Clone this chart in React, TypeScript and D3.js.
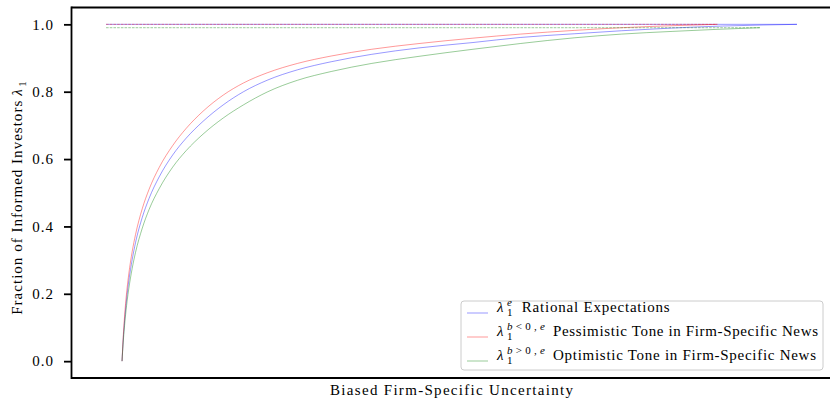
import React, { useEffect, useRef } from 'react';
import * as d3 from 'd3';

// values (x in arbitrary uncertainty units)
const blueX = [0, 0.15, 0.3, 0.45, 0.75, 1, 1.5, 2, 3, 4, 5.5, 7.5, 9.5, 12, 15, 18, 21.5, 26, 31, 37, 44, 52, 59, 67, 74, 81.5, 89, 95, 100];
const blueY = [0, 0.056, 0.101, 0.138, 0.198, 0.238, 0.301, 0.352, 0.427, 0.483, 0.547, 0.612, 0.662, 0.712, 0.761, 0.800, 0.834, 0.865, 0.889, 0.911, 0.930, 0.946, 0.961, 0.972, 0.981, 0.989, 0.995, 0.998, 1.0];

const redX = [0, 0.15, 0.3, 0.45, 0.75, 1, 1.5, 2, 3, 4, 5.5, 7.5, 9.5, 12, 15, 18, 21.5, 26, 31, 37, 44, 52, 59, 67, 74, 81.5, 88.2];
const redY = [0, 0.063, 0.112, 0.153, 0.217, 0.259, 0.325, 0.376, 0.453, 0.510, 0.575, 0.640, 0.691, 0.742, 0.790, 0.826, 0.856, 0.884, 0.906, 0.926, 0.943, 0.959, 0.971, 0.982, 0.990, 0.996, 1.0];

const greenX = [0, 0.15, 0.3, 0.45, 0.75, 1, 1.5, 2, 3, 4, 5.5, 7.5, 9.5, 12, 15, 18, 21.5, 26, 31, 37, 44, 52, 59, 67, 74, 81.5, 88, 94.5];
const greenY = [0, 0.049, 0.088, 0.122, 0.178, 0.215, 0.275, 0.323, 0.395, 0.450, 0.512, 0.576, 0.625, 0.674, 0.722, 0.761, 0.799, 0.834, 0.860, 0.884, 0.905, 0.926, 0.943, 0.960, 0.971, 0.979, 0.985, 0.99];

const capStart = -2.37;
const yTicks = [0.0, 0.2, 0.4, 0.6, 0.8, 1.0];

const legendSups = ['e', 'b<0,e', 'b>0,e'];
const legendLabels = [
  'Rational Expectations',
  'Pessimistic Tone in Firm-Specific News',
  'Optimistic Tone in Firm-Specific News',
];
const xLabel = 'Biased Firm-Specific Uncertainty';
const yLabel = 'Fraction of Informed Investors';

const FONT = "'Liberation Serif', 'DejaVu Serif', serif";

const Chart = () => {
  const svgRef = useRef(null);

  useEffect(() => {
    const left = 71.5, right = 831.5, top = 7.5, bottom = 378;

    const svg = d3.select(svgRef.current);
    svg.selectAll('*').remove();

    const xMax = d3.max([blueX, redX, greenX], a => a[a.length - 1]);
    const pad = (xMax - capStart) * 0.05;
    const x = d3.scaleLinear().domain([capStart - pad, xMax + pad]).range([left, right]);
    const y = d3.scaleLinear().domain([-0.05, 1.05]).range([bottom, top]);

    const series = [
      { xs: blueX, ys: blueY, color: '#0000ff', dash: null },
      { xs: redX, ys: redY, color: '#ff0000', dash: '2.6,1.1' },
      { xs: greenX, ys: greenY, color: '#008000', dash: '2.6,1.1' },
    ];

    const line = d3.line<[number, number]>()
      .x(d => x(d[0]))
      .y(d => y(d[1]))
      .curve(d3.curveMonotoneX);

    const plot = svg.append('g');
    series.forEach(s => {
      const pts = s.xs.map((v, i) => [v, s.ys[i]] as [number, number]);
      plot.append('path')
        .attr('d', line(pts))
        .attr('fill', 'none')
        .attr('stroke', s.color)
        .attr('stroke-opacity', 0.5)
        .attr('stroke-width', 0.8);

      // cap at the series' maximum
      const cap = s.ys[s.ys.length - 1];
      plot.append('line')
        .attr('x1', x(capStart))
        .attr('x2', x(s.xs[s.xs.length - 1]))
        .attr('y1', y(cap))
        .attr('y2', y(cap))
        .attr('stroke', s.color)
        .attr('stroke-opacity', 0.5)
        .attr('stroke-width', 0.8)
        .attr('stroke-dasharray', s.dash);
    });

    // y axis
    const yAxis = svg.append('g')
      .attr('transform', `translate(${left},0)`)
      .call(d3.axisLeft(y).tickValues(yTicks).tickSize(7.5).tickPadding(10).tickFormat(d3.format('.1f')));
    yAxis.select('.domain').remove();
    yAxis.selectAll('line').attr('stroke', '#000').attr('stroke-width', 1.8);
    yAxis.selectAll('text')
      .style('font-family', FONT)
      .style('font-size', '15px')
      .attr('letter-spacing', 1)
      .attr('fill', '#000');

    // spines
    const spine = svg.append('g').attr('stroke', '#000').attr('stroke-width', 1.8);
    spine.append('line').attr('x1', left).attr('x2', left).attr('y1', top - 0.9).attr('y2', bottom + 0.9);
    spine.append('line').attr('x1', left).attr('x2', right).attr('y1', top).attr('y2', top);
    spine.append('line').attr('x1', left).attr('x2', right).attr('y1', bottom).attr('y2', bottom);

    // axis labels
    svg.append('text')
      .attr('x', (left + right) / 2)
      .attr('y', 395)
      .attr('text-anchor', 'middle')
      .style('font-family', FONT)
      .style('font-size', '15px')
      .attr('textLength', 243)
      .attr('lengthAdjust', 'spacing')
      .text(xLabel);

    const yl = svg.append('g')
      .attr('transform', `translate(21.5,${(top + bottom) / 2 + 1})rotate(-90)`)
      .style('font-family', FONT);
    yl.append('text')
      .attr('x', -121)
      .attr('y', 0)
      .style('font-size', '15px')
      .attr('textLength', 214)
      .attr('lengthAdjust', 'spacing')
      .text(yLabel);
    yl.append('text')
      .attr('x', 98)
      .attr('y', 0)
      .style('font-size', '15px')
      .style('font-style', 'italic')
      .text('λ');
    yl.append('text')
      .attr('x', 107)
      .attr('y', 4)
      .style('font-size', '11px')
      .text('1');

    // legend
    const lg = svg.append('g').style('font-family', FONT);
    lg.append('rect')
      .attr('x', 461)
      .attr('y', 301)
      .attr('width', 362)
      .attr('height', 69)
      .attr('rx', 3)
      .attr('fill', '#fff')
      .attr('fill-opacity', 0.8)
      .attr('stroke', '#cccccc')
      .attr('stroke-width', 1);

    const rowBase = [312, 336, 360];
    const labelX = [521.7, 553, 553];
    const labelLen = [148, 265, 263];
    const supLen = [6, 38, 38];
    series.forEach((s, i) => {
      const by = rowBase[i];
      lg.append('line')
        .attr('x1', 467)
        .attr('x2', 488)
        .attr('y1', by + 1)
        .attr('y2', by + 1)
        .attr('stroke', s.color)
        .attr('stroke-opacity', 0.5)
        .attr('stroke-width', 0.8);
      lg.append('text')
        .attr('x', 497)
        .attr('y', by)
        .style('font-size', '15px')
        .style('font-style', 'italic')
        .text('λ');
      const sup = lg.append('text')
        .attr('x', 507)
        .attr('y', by - 6.5)
        .style('font-size', '11px')
        .attr('textLength', supLen[i])
        .attr('lengthAdjust', 'spacing');
      legendSups[i].split(/(<|>|,)/).filter(t => t !== '').forEach(t => {
        sup.append('tspan')
          .style('font-style', /[a-z]/.test(t) ? 'italic' : 'normal')
          .text(t);
      });
      lg.append('text')
        .attr('x', 507)
        .attr('y', by + 4)
        .style('font-size', '11px')
        .text('1');
      lg.append('text')
        .attr('x', labelX[i])
        .attr('y', by)
        .style('font-size', '15px')
        .attr('textLength', labelLen[i])
        .attr('lengthAdjust', 'spacing')
        .text(legendLabels[i]);
    });
  }, []);

  return (
    <svg
      ref={svgRef}
      width={830}
      height={399}
      style={{ position: 'absolute', left: 0, top: 0, background: '#fff' }}
    ></svg>
  );
};

export default function App() {
  return <Chart />;
}
